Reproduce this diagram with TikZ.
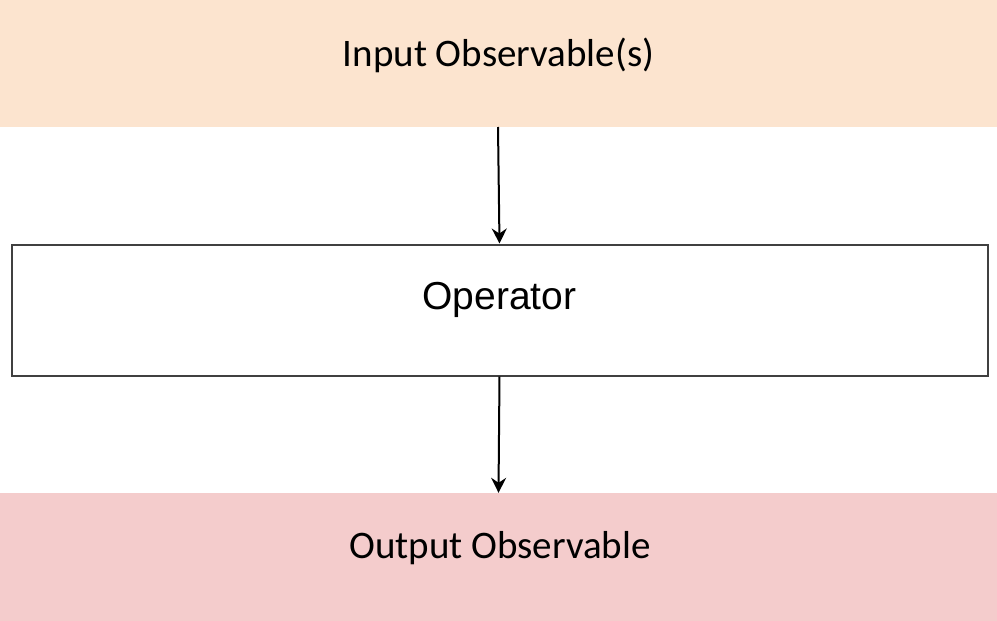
\documentclass[tikz,border=0pt]{standalone}
\usepackage{fontspec}
\setmainfont{Carlito}
\newfontfamily\arialf{Liberation Sans}
\usetikzlibrary{arrows.meta}
\definecolor{peach}{HTML}{FCE4CF}
\definecolor{rosy}{HTML}{F4CCCC}
\definecolor{edge}{HTML}{404040}
\tikzset{
  band/.style={draw=none, inner sep=0pt, minimum width=997pt, minimum height=127pt},
  lbl/.style={inner sep=0pt, font=\fontsize{39pt}{44pt}\selectfont},
  opbox/.style={draw=edge, line width=2pt, fill=white, minimum width=976pt, minimum height=131pt, inner sep=0pt},
  oplbl/.style={inner sep=0pt, font=\arialf\fontsize{39pt}{44pt}\selectfont},
  conn/.style={line width=2pt, -{Stealth[length=15pt, width=15pt, inset=5pt]}}
}
\begin{document}
\begin{tikzpicture}[x=1pt,y=-1pt]
\useasboundingbox (0,0) rectangle (997,621);
\node[band, fill=peach, minimum height=127pt] (in) at (498.5,63.5) {};
\node[lbl] (inl) at (498.5,55) {Input Observable(s)};
\node[opbox] (op) at (499.5,310) {};
\node[oplbl] (opl) at (499.5,300) {Operator};
\node[band, fill=rosy, minimum height=128pt] (out) at (498.5,557) {};
\node[lbl] (outl) at (500,548) {Output Observable};
\draw[conn] (498,127) -- (op.north);
\draw[conn] (op.south) -- (out.north);
\end{tikzpicture}
\end{document}
